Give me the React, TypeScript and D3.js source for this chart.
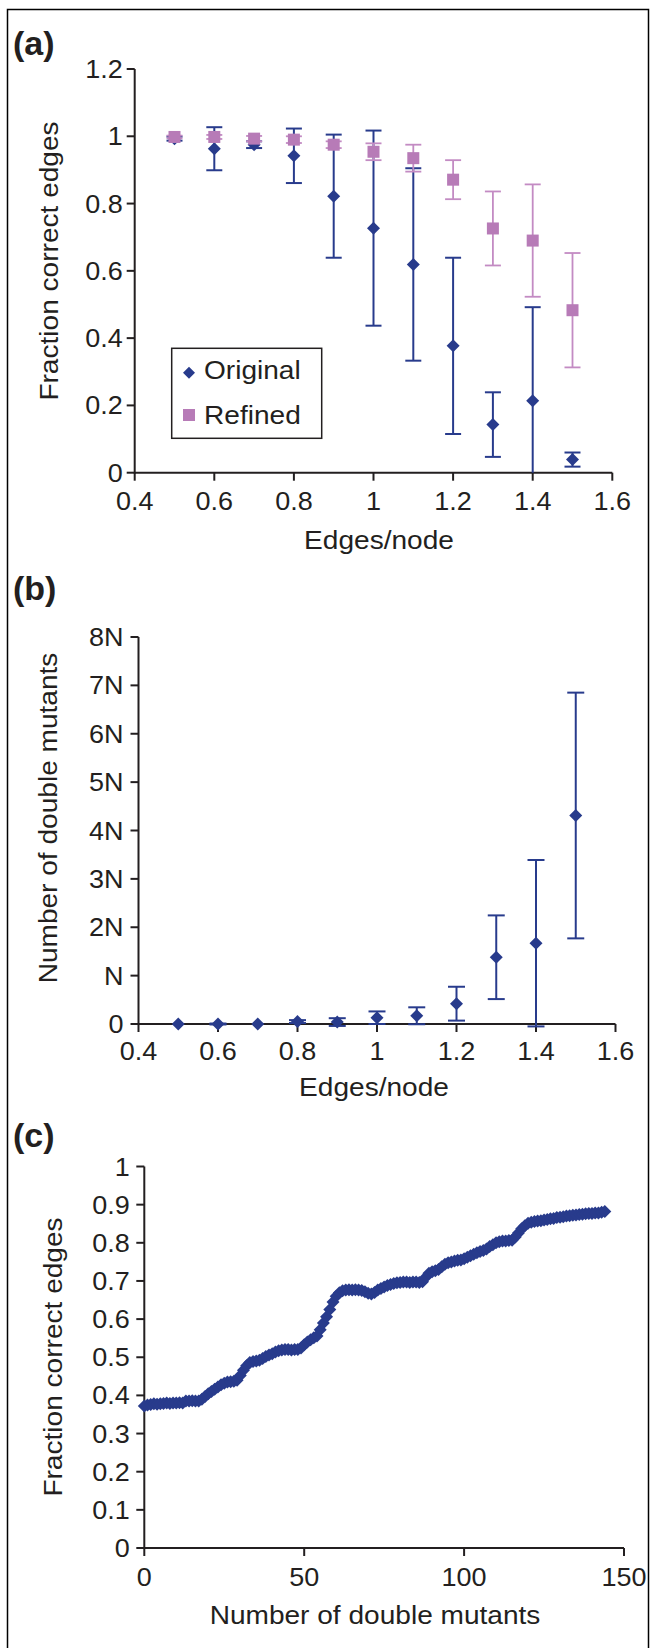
import React from 'react';
import * as d3 from 'd3';

// panel (a) + (b): edges per node
const edgesPerNode = [0.5, 0.6, 0.7, 0.8, 0.9, 1.0, 1.1, 1.2, 1.3, 1.4, 1.5];
const originalFrac = [0.993, 0.963, 0.975, 0.942, 0.822, 0.727, 0.619, 0.377, 0.143, 0.214, 0.039];
const originalErr = [0.006, 0.064, 0.01, 0.081, 0.183, 0.29, 0.286, 0.262, 0.096, 0.278, 0.021];
const refinedFrac = [0.998, 0.998, 0.993, 0.99, 0.975, 0.954, 0.935, 0.871, 0.726, 0.69, 0.483];
const refinedErr = [0.004, 0.006, 0.008, 0.01, 0.01, 0.025, 0.04, 0.058, 0.11, 0.167, 0.17];
const edgeTicks = [0.4, 0.6, 0.8, 1, 1.2, 1.4, 1.6];
const fracTicksA = [0, 0.2, 0.4, 0.6, 0.8, 1, 1.2];

const doubleMutants = [0, 0, 0, 0.05, 0.04, 0.13, 0.17, 0.42, 1.38, 1.67, 4.31];
const doubleMutantsErr = [0, 0.01, 0, 0.03, 0.08, 0.13, 0.175, 0.35, 0.865, 1.72, 2.54];
const nTicks = [0, 1, 2, 3, 4, 5, 6, 7, 8];
const nTickLabels = ['0', 'N', '2N', '3N', '4N', '5N', '6N', '7N', '8N'];

// panel (c): fraction correct vs number of double mutants (one point per mutant count)
const fracCurve = [
  0.372, 0.375, 0.376, 0.378, 0.377, 0.378, 0.379, 0.38, 0.379, 0.38,
  0.38, 0.381, 0.38, 0.385, 0.385, 0.386, 0.385, 0.385, 0.39, 0.397,
  0.404, 0.41, 0.416, 0.422, 0.428, 0.432, 0.435, 0.436, 0.437, 0.44,
  0.452, 0.466, 0.478, 0.486, 0.489, 0.49, 0.492, 0.497, 0.502, 0.506,
  0.509, 0.514, 0.517, 0.519, 0.52, 0.52, 0.519, 0.52, 0.52, 0.524,
  0.533, 0.54, 0.546, 0.551, 0.556, 0.572, 0.59, 0.606, 0.625, 0.645,
  0.66, 0.669, 0.674, 0.676, 0.677, 0.676, 0.677, 0.676, 0.675, 0.672,
  0.668, 0.666, 0.67, 0.676, 0.68, 0.684, 0.688, 0.691, 0.693, 0.695,
  0.696, 0.697, 0.697, 0.696, 0.697, 0.697, 0.696, 0.698, 0.71, 0.72,
  0.724, 0.727, 0.73, 0.737, 0.744, 0.748, 0.75, 0.752, 0.754, 0.755,
  0.758, 0.762, 0.766, 0.77, 0.774, 0.777, 0.78, 0.784, 0.79, 0.795,
  0.8, 0.803, 0.805, 0.805, 0.806, 0.807, 0.815, 0.826, 0.837, 0.845,
  0.851, 0.854, 0.856, 0.857, 0.858, 0.86, 0.861, 0.863, 0.864, 0.866,
  0.867, 0.868, 0.87, 0.871, 0.872, 0.873, 0.874, 0.875, 0.876, 0.877,
  0.877, 0.878, 0.878, 0.88, 0.882,
];
const countTicks = [0, 50, 100, 150];
const fracTicksC = [0, 0.1, 0.2, 0.3, 0.4, 0.5, 0.6, 0.7, 0.8, 0.9, 1];

const BLUE = '#283b8c';
const PINK = '#b77bb7';
const PINK_BAR = '#c38bc3';
const INK = '#231f20';
const FONT = "'Liberation Sans', Arial, Helvetica, sans-serif";
const STRETCH = 1.08;

const Txt = ({ x, y, size = 26, anchor = 'start', rot = 0, bold = false, dy = 0, children }: any) => (
  <text
    transform={`translate(${x},${y})${rot ? ` rotate(${rot})` : ''} scale(${bold ? 1 : STRETCH},1)`}
    fontFamily={FONT}
    fontSize={size}
    fontWeight={bold ? 'bold' : 'normal'}
    textAnchor={anchor}
    dy={dy}
    fill={INK}
  >
    {children}
  </text>
);

const diamond = (cx: number, cy: number, r: number) =>
  `M${cx},${cy - r}L${cx + r},${cy}L${cx},${cy + r}L${cx - r},${cy}Z`;

const Axes = ({ x, y, xTicks, yTicks, yLabels, yGap, xBase }: any) => {
  const [x0, x1] = x.range();
  const [y0, y1] = y.range();
  return (
    <g stroke={INK} strokeWidth={2}>
      <line x1={x0} x2={x1} y1={y0} y2={y0} />
      <line x1={x0} x2={x0} y1={y0 + 1} y2={y1} />
      {xTicks.map((t: number) => (
        <g key={'x' + t}>
          <line x1={x(t)} x2={x(t)} y1={y0} y2={y0 + 8} />
          <g stroke="none">
            <Txt x={x(t)} y={y0 + xBase} size={25} anchor="middle">{String(t)}</Txt>
          </g>
        </g>
      ))}
      {yTicks.map((t: number, i: number) => (
        <g key={'y' + t}>
          <line x1={x0 - 8} x2={x0} y1={y(t)} y2={y(t)} />
          <g stroke="none">
            <Txt x={x0 - yGap} y={y(t)} size={25} anchor="end" dy="0.36em">
              {yLabels ? yLabels[i] : String(t)}
            </Txt>
          </g>
        </g>
      ))}
    </g>
  );
};

const ErrBar = ({ cx, lo, hi, color, width = 2, cap = 16, loCap = true }: any) => (
  <g stroke={color} strokeWidth={width}>
    <line x1={cx} x2={cx} y1={lo} y2={hi} />
    <line x1={cx - cap / 2} x2={cx + cap / 2} y1={hi} y2={hi} />
    {loCap && <line x1={cx - cap / 2} x2={cx + cap / 2} y1={lo} y2={lo} />}
  </g>
);

export default function App() {
  const xA = d3.scaleLinear().domain([0.4, 1.6]).range([134.7, 612.3]);
  const yA = d3.scaleLinear().domain([0, 1.2]).range([472.7, 69]);
  const xB = d3.scaleLinear().domain([0.4, 1.6]).range([138.5, 615.5]);
  const yB = d3.scaleLinear().domain([0, 8]).range([1024, 637]);
  const xC = d3.scaleLinear().domain([0, 150]).range([144.3, 624]);
  const yC = d3.scaleLinear().domain([0, 1]).range([1548, 1166.5]);

  return (
    <svg
      width={650}
      height={1648}
      style={{ position: 'absolute', left: 0, top: 0, display: 'block', background: '#fff' }}
    >
      <rect x={0} y={0} width={650} height={1648} fill="#fff" />
      <rect x={7.5} y={9.5} width={641} height={1660} fill="none" stroke="#000" strokeWidth={1.5} />

      {/* (a) */}
      <Txt x={13} y={55} size={34} bold>(a)</Txt>
      <Axes x={xA} y={yA} xTicks={edgeTicks} yTicks={fracTicksA} yGap={12} xBase={37} />
      <Txt x={379} y={549} anchor="middle">Edges/node</Txt>
      <Txt x={58} y={261} anchor="middle" rot={-90}>Fraction correct edges</Txt>
      {edgesPerNode.map((e, i) => {
        const v = originalFrac[i], er = originalErr[i];
        const low = v - er;
        return (
          <ErrBar key={'oe' + i} cx={xA(e)} lo={yA(Math.max(0, low))} hi={yA(v + er)}
            color={BLUE} loCap={low >= 0} />
        );
      })}
      {edgesPerNode.map((e, i) => (
        <path key={'od' + i} d={diamond(xA(e), yA(originalFrac[i]), 6.5)} fill={BLUE} />
      ))}
      {edgesPerNode.map((e, i) => (
        <ErrBar key={'re' + i} cx={xA(e)} lo={yA(refinedFrac[i] - refinedErr[i])}
          hi={yA(refinedFrac[i] + refinedErr[i])} color={PINK_BAR} width={1.8} />
      ))}
      {edgesPerNode.map((e, i) => (
        <rect key={'rs' + i} x={xA(e) - 6} y={yA(refinedFrac[i]) - 6} width={12} height={12} fill={PINK} />
      ))}
      <rect x={171.7} y={348.3} width={150} height={90} fill="#fff" stroke={INK} strokeWidth={1.5} />
      <path d={diamond(189, 372.7, 6)} fill={BLUE} />
      <rect x={183} y={409} width={12} height={12} fill={PINK} />
      <Txt x={204} y={379}>Original</Txt>
      <Txt x={204} y={424}>Refined</Txt>

      {/* (b) */}
      <Txt x={13} y={600} size={34} bold>(b)</Txt>
      <Axes x={xB} y={yB} xTicks={edgeTicks} yTicks={nTicks} yLabels={nTickLabels} yGap={15} xBase={36} />
      <Txt x={374} y={1096} anchor="middle">Edges/node</Txt>
      <Txt x={57} y={818} anchor="middle" rot={-90}>Number of double mutants</Txt>
      {edgesPerNode.map((e, i) =>
        doubleMutantsErr[i] > 0 ? (
          <ErrBar key={'be' + i} cx={xB(e)} lo={yB(doubleMutants[i] - doubleMutantsErr[i])}
            hi={yB(doubleMutants[i] + doubleMutantsErr[i])} color={BLUE} cap={17} />
        ) : null
      )}
      {edgesPerNode.map((e, i) => (
        <path key={'bd' + i} d={diamond(xB(e), yB(doubleMutants[i]), 6.5)} fill={BLUE} />
      ))}

      {/* (c) */}
      <Txt x={13} y={1147} size={34} bold>(c)</Txt>
      <Axes x={xC} y={yC} xTicks={countTicks} yTicks={fracTicksC} yGap={14.5} xBase={37.5} />
      <Txt x={375} y={1624} anchor="middle">Number of double mutants</Txt>
      <Txt x={62} y={1357} anchor="middle" rot={-90}>Fraction correct edges</Txt>
      {fracCurve.map((v, i) => (
        <path key={'c' + i} d={diamond(xC(i), yC(v), 6.5)} fill={BLUE} />
      ))}
    </svg>
  );
}
